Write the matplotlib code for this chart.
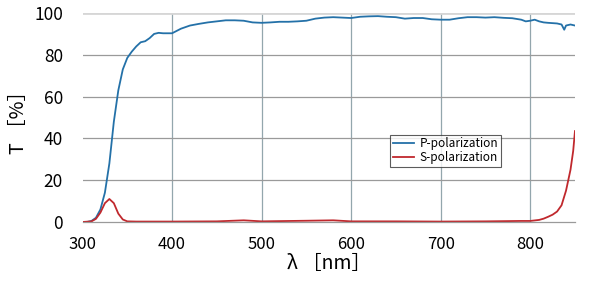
import matplotlib.pyplot as plt

# 파장 [nm] 과 투과율 [%]
wl_p = [300, 305, 310, 315, 320, 325, 330, 335, 340, 345, 350, 355, 360, 365, 370, 375,
        380, 385, 390, 400, 410, 420, 430, 440, 450, 460, 470, 480, 490, 500, 510, 520,
        530, 540, 550, 560, 570, 580, 590, 600, 610, 620, 630, 640, 650, 660, 670, 680,
        690, 700, 710, 720, 730, 740, 750, 760, 770, 780, 790, 795, 800, 805, 810, 815,
        820, 830, 835, 838, 840, 845, 850]
p_pol = [0, 0, 0.5, 2, 6, 14, 28, 48, 63, 73, 78.5, 81.5, 84, 86, 86.5, 88,
         90, 90.5, 90.3, 90.3, 92.5, 94, 94.8, 95.5, 96, 96.5, 96.5, 96.3, 95.5, 95.3, 95.5, 95.8,
         95.8, 96.0, 96.3, 97.3, 97.8, 98.0, 97.8, 97.6, 98.2, 98.4, 98.5, 98.2, 98.0, 97.3, 97.6, 97.6,
         97.0, 96.8, 96.8, 97.5, 98.0, 98.0, 97.8, 98.0, 97.7, 97.5, 96.8, 96.0, 96.3, 96.8, 96.0, 95.5,
         95.3, 95.0, 94.5, 92.0, 94.0, 94.5, 94.0]

wl_s = [300, 310, 315, 320, 325, 330, 335, 340, 345, 350, 360, 400, 450, 480, 500, 550,
        580, 600, 650, 700, 750, 790, 800, 810, 815, 820, 825, 830, 835, 840, 845, 848, 850]
s_pol = [0, 0.3, 1.5, 4.5, 9, 11, 9, 4, 1.2, 0.3, 0.2, 0.2, 0.3, 0.8, 0.3, 0.6,
         0.8, 0.3, 0.3, 0.2, 0.3, 0.5, 0.5, 1, 1.6, 2.5, 3.5, 5, 8, 15, 25, 34, 43.5]

xticks = [300, 400, 500, 600, 700, 800]
yticks = [0, 20, 40, 60, 80, 100]

plt.rcParams['font.family'] = ['Noto Sans CJK JP', 'DejaVu Sans']

fig = plt.figure(figsize=(6, 2.87), dpi=100)
ax = fig.add_axes([0.1375, 0.2265, 0.8208, 0.7282])

ax.plot(wl_p, p_pol, color='#2471a8', lw=1.3, label='P-polarization')
ax.plot(wl_s, s_pol, color='#c0282d', lw=1.3, label='S-polarization')

ax.set_xlim(300, 850)
ax.set_ylim(0, 100)
ax.set_xticks(xticks)
ax.set_yticks(yticks)
ax.tick_params(axis='x', length=0, labelsize=12, pad=10)
ax.tick_params(axis='y', length=0, labelsize=12.5, pad=14)

# 격자선
for x in xticks[1:]:
    ax.axvline(x, color='#93a6ad', lw=0.9, zorder=0)
for y in yticks[1:-1]:
    ax.axhline(y, color='#9a9a9a', lw=0.9, zorder=0)
ax.axhline(100, color='#d6d6d6', lw=2, zorder=0)
for s in ['left', 'right', 'top']:
    ax.spines[s].set_visible(False)
ax.spines['bottom'].set_color('#9a9a9a')
ax.spines['bottom'].set_linewidth(0.9)

ax.set_xlabel('λ ［nm］', fontsize=14, labelpad=0)
ax.set_ylabel('T ［%］', fontsize=14, labelpad=4)

leg = ax.legend(loc='lower left', bbox_to_anchor=(0.625, 0.265), fontsize=8.5,
                frameon=True, fancybox=False, borderpad=0.2, handlelength=1.8,
                handletextpad=0.5, labelspacing=0.1, borderaxespad=0)
leg.get_frame().set_edgecolor('#333333')
leg.get_frame().set_linewidth(0.8)

plt.savefig('out.png', dpi=100)
